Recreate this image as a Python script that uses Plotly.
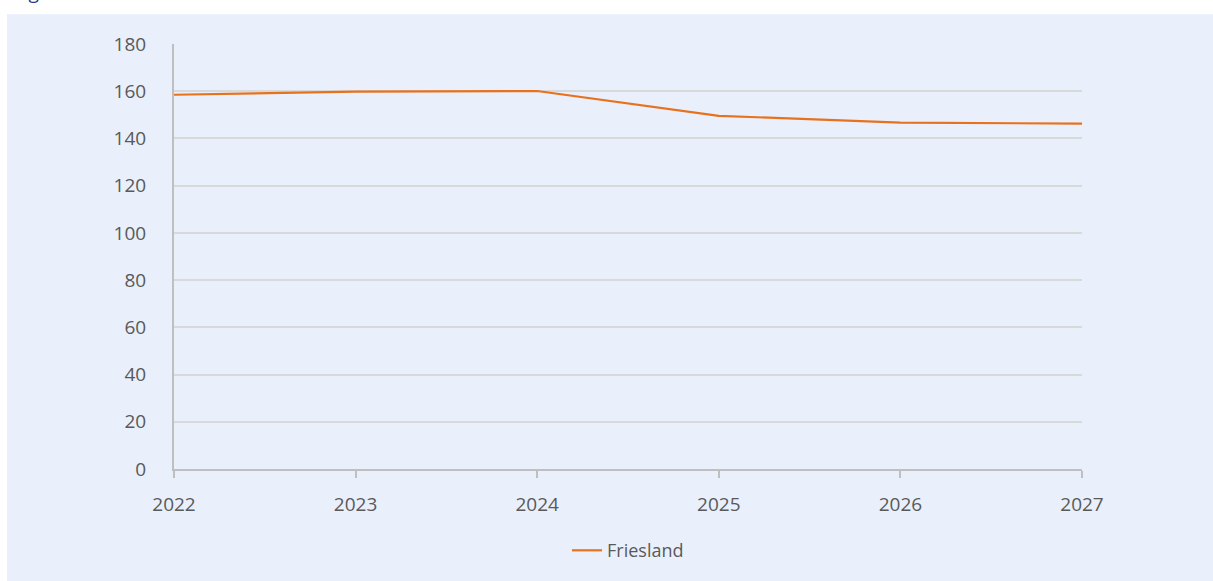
import plotly.graph_objects as go

years = [2022, 2023, 2024, 2025, 2026, 2027]
friesland = [158.5, 159.8, 160.1, 149.6, 146.7, 146.3]
y_ticks = [0, 20, 40, 60, 80, 100, 120, 140, 160, 180]
series_name = "Friesland"

W, H = 1213, 581
L, R, T, B = 174, 131, 44, 110
pw, ph = W - L - R, H - T - B

def px_x(x):
    return (x - L) / pw

def px_y(y):
    return (H - B - y) / ph

bg = "#E9F0FC"
fig = go.Figure()
fig.add_trace(go.Scatter(
    x=years, y=friesland, mode="lines", name=series_name,
    line=dict(color="#E8711C", width=2.2),
))

fig.add_shape(type="rect", xref="paper", yref="paper", layer="below",
              x0=px_x(7), x1=px_x(W + 5), y0=px_y(H + 5), y1=px_y(14),
              fillcolor=bg, line=dict(width=0))

fig.add_annotation(xref="paper", yref="paper", x=px_x(12), y=px_y(7),
                   xanchor="left", yanchor="bottom", showarrow=False,
                   text="Figuur", font=dict(family="Open Sans", size=19, color="#1F3A8A"))

fig.update_layout(
    width=W, height=H,
    margin=dict(l=L, r=R, t=T, b=B),
    paper_bgcolor="white", plot_bgcolor=bg,
    font=dict(family="Open Sans", size=16, color="#595959"),
    showlegend=True,
    legend=dict(orientation="h", x=px_x(628), xanchor="center", y=px_y(553), yanchor="middle",
                font=dict(family="Open Sans", size=18, color="#595959"),
                bgcolor="rgba(0,0,0,0)"),
    xaxis=dict(range=[2022, 2027], tickvals=years, ticktext=[str(y) for y in years],
               showgrid=False, zeroline=False, showline=True, linecolor="#BFBFBF", linewidth=2,
               ticks="outside", ticklen=7, tickcolor="#BFBFBF", tickwidth=2,
               ticklabelstandoff=10,
               tickfont=dict(size=19, color="#595959")),
    yaxis=dict(range=[0, 180], tickvals=y_ticks, showgrid=True, gridcolor="#D9D9D9", gridwidth=1.5,
               zeroline=False, showline=True, linecolor="#BFBFBF", linewidth=2,
               ticks="", ticklabelstandoff=22,
               tickfont=dict(size=19, color="#595959")),
)

fig.write_html("out.html", config={"displayModeBar": False},
               post_script="document.body.style.margin='0';")
